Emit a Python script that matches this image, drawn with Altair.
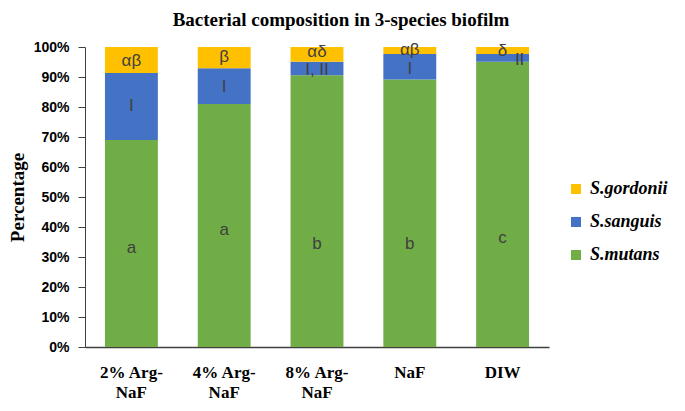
import altair as alt
import pandas as pd

categories = ["2% Arg-NaF", "4% Arg-NaF", "8% Arg-NaF", "NaF", "DIW"]
species = ["S.gordonii", "S.sanguis", "S.mutans"]
mutans = [69.0, 81.0, 90.6, 89.2, 95.1]
sanguis = [22.3, 11.9, 4.5, 8.5, 2.6]
gordonii = [8.7, 7.1, 4.9, 2.3, 2.3]

# annotation letters inside bars
ann_text = ["a", "a", "b", "b", "c",
            "I", "I", "I, II", "I", "II",
            "αβ", "β", "αδ", "αβ", "δ"]
ann_cat = categories * 3
ann_y = [33.0, 39.0, 34.5, 34.5, 36.5,
         80.5, 86.7, 92.3, 92.8, 95.6,
         95.2, 96.8, 98.4, 99.0, 98.7]
ann_shift = [0, 0, 0, 0, 0,
             0, 0, 0, 0, 1,
             0, 0, 0, 0, 0]

rows = []
for i, c in enumerate(categories):
    rows.append({"cat": c, "sp": "S.mutans", "v": mutans[i], "o": 0})
    rows.append({"cat": c, "sp": "S.sanguis", "v": sanguis[i], "o": 1})
    rows.append({"cat": c, "sp": "S.gordonii", "v": gordonii[i], "o": 2})
df = pd.DataFrame(rows)
ann = pd.DataFrame({"cat": ann_cat, "t": ann_text, "y": [v / 100 for v in ann_y], "s": ann_shift})

xaxis = alt.Axis(title=None, labelAngle=0, ticks=False,
                 labelFont="Liberation Serif", labelFontWeight="bold",
                 labelFontSize=17, labelColor="#000000",
                 labelPadding=17, labelLineHeight=20,
                 domainColor="#404040", domainWidth=1.5,
                 labelExpr="indexof(datum.value,'Arg-')>=0 ? [substring(datum.value,0,7), substring(datum.value,7)] : datum.value")
xscale = alt.Scale(paddingInner=0.43, paddingOuter=0.215)
yaxis = alt.Axis(title="Percentage", format=".0%", values=[i / 10 for i in range(11)],
                 grid=False, tickSize=7, tickColor="#404040", domainColor="#404040",
                 labelOverlap=False,
                 labelFont="Liberation Sans", labelFontWeight="bold", labelFontSize=14,
                 labelColor="#000000", labelPadding=9,
                 titleFont="Liberation Serif", titleFontWeight="bold", titleFontSize=19,
                 titleColor="#000000", titlePadding=6)
yscale = alt.Scale(domain=[0, 1])

bars = alt.Chart(df).mark_bar().encode(
    x=alt.X("cat:N", sort=categories, scale=xscale, axis=xaxis),
    y=alt.Y("v:Q", stack="normalize", scale=yscale, axis=yaxis),
    color=alt.Color("sp:N", scale=alt.Scale(domain=species, range=["#FFC000", "#4472C4", "#70AD47"]),
                    legend=alt.Legend(title=None, orient="none", legendX=482, legendY=133,
                                      symbolType="square", symbolSize=100, symbolStrokeWidth=0,
                                      rowPadding=15, labelFont="Liberation Serif",
                                      labelFontStyle="italic", labelFontWeight="bold",
                                      labelFontSize=18, labelColor="#000000", labelOffset=5,
                                      labelLimit=200)),
    order=alt.Order("o:Q"),
)

def text_layer(shift, dx):
    return alt.Chart(ann).transform_filter(alt.datum.s == shift).mark_text(
        font="Liberation Sans", fontSize=17, color="#404040", dx=dx).encode(
        x=alt.X("cat:N", sort=categories, scale=xscale, axis=xaxis),
        y=alt.Y("y:Q", scale=yscale, axis=yaxis),
        text="t:N",
    )

chart = alt.layer(bars, text_layer(0, 0), text_layer(1, 17)).properties(
    width=464, height=300,
    autosize=alt.AutoSizeParams(type="none"),
    padding={"left": 77, "top": 39, "right": 128, "bottom": 56},
    title=alt.TitleParams("Bacterial composition in 3-species biofilm",
                          font="Liberation Serif", fontSize=19, fontWeight="bold",
                          color="#000000", anchor="middle", dx=24, offset=10),
).configure_view(stroke=None)

chart.save("out.html", embed_options={"renderer": "svg", "actions": False})
